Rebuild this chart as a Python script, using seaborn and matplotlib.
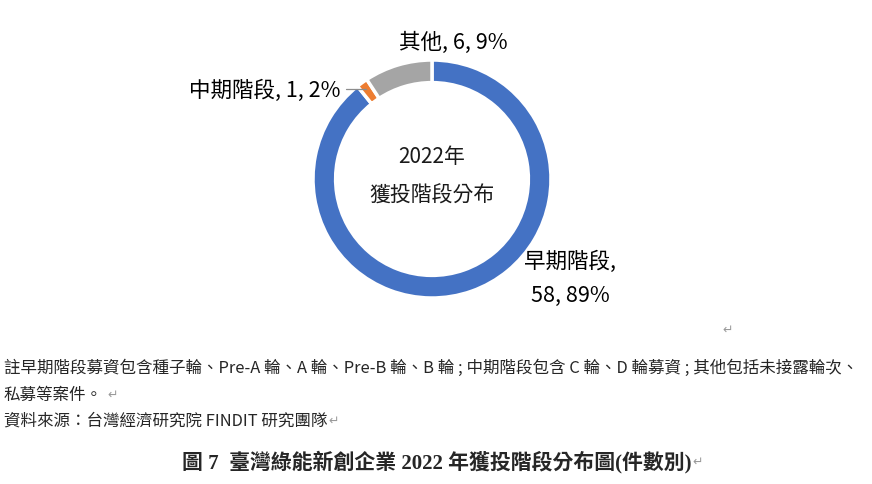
import numpy as np
import matplotlib
matplotlib.use('Agg')
from matplotlib import pyplot as plt
import seaborn as sns

# data
stages = ['早期階段', '中期階段', '其他']
counts = [58, 1, 6]
shares = [89, 2, 9]
colors = ['#4472C4', '#ED7D31', '#A5A5A5']

center_title = '2022年\n獲投階段分布'
note_lines = [
    '註早期階段募資包含種子輪、Pre-A 輪、A 輪、Pre-B 輪、B 輪 ; 中期階段包含 C 輪、D 輪募資 ; 其他包括未接露輪次、',
    '私募等案件。',
    '資料來源：台灣經濟研究院 FINDIT 研究團隊',
]
caption = '圖 7  臺灣綠能新創企業 2022 年獲投階段分布圖(件數別)'

sns.set_theme(style='white')
cjk = ['Noto Sans CJK TC', 'DejaVu Sans']
plt.rcParams['font.family'] = cjk

W, H = 872, 484
fig = plt.figure(figsize=(W / 100, H / 100), dpi=100)
renderer = fig.canvas.get_renderer()

# donut axes, centre (432,179) px, radius 119 px
cx, cy, r = 432, 179, 119
ax = fig.add_axes([(cx - r) / W, (H - cy - r) / H, 2 * r / W, 2 * r / H])
ax.pie(counts, colors=colors, startangle=90, counterclock=False, radius=1,
       wedgeprops=dict(width=0.19, edgecolor='white', linewidth=2.5))
ax.set_xlim(-1, 1)
ax.set_ylim(-1, 1)
ax.set_aspect('equal')
ax.axis('off')

ax.text(0, 0.02, center_title, ha='center', va='center', fontsize=15,
        linespacing=2.0, color='#1a1a1a')

def fx(px):
    return px / W

def fy(py):
    return 1 - py / H

def para_mark(txt, gap=4):
    # gray paragraph mark right after a text object
    bb = txt.get_window_extent(renderer)
    fig.text((bb.x1 + gap) / W, (bb.y0 + bb.y1) / 2 / H, '\u21b5', ha='left', va='center',
             fontsize=9, color='#9a9a9a', family='DejaVu Sans')

# data labels
fig.text(fx(453), fy(43), f'{stages[2]}, {counts[2]}, {shares[2]}%', ha='center',
         va='center', fontsize=15.5, color='black')
fig.text(fx(340), fy(91), f'{stages[1]}, {counts[1]}, {shares[1]}%', ha='right',
         va='center', fontsize=15.5, color='black')
fig.text(fx(570), fy(262), f'{stages[0]},', ha='center', va='center',
         fontsize=15.5, color='black')
fig.text(fx(570), fy(296), f'{counts[0]}, {shares[0]}%', ha='center', va='center',
         fontsize=15.5, color='black')
fig.add_artist(plt.Line2D([fx(346), fx(366)], [fy(89), fy(89)], color='#8c8c8c', lw=0.9))

fig.text(fx(722), fy(330), '\u21b5', ha='left', va='center', fontsize=9, color='#9a9a9a',
         family='DejaVu Sans')

# notes
fig.text(fx(4), fy(368), note_lines[0], ha='left', va='center', fontsize=11.9)
t2 = fig.text(fx(4), fy(395), note_lines[1], ha='left', va='center', fontsize=11.9)
para_mark(t2)
t3 = fig.text(fx(4), fy(421), note_lines[2], ha='left', va='center', fontsize=11.9)
para_mark(t3, gap=1)

t4 = fig.text(fx(437), fy(462), caption, ha='center', va='center', fontsize=15,
              fontweight='bold', family=['Liberation Serif', 'Noto Sans CJK TC'])
para_mark(t4, gap=1)

fig.savefig('out.png', dpi=100, facecolor='white')
